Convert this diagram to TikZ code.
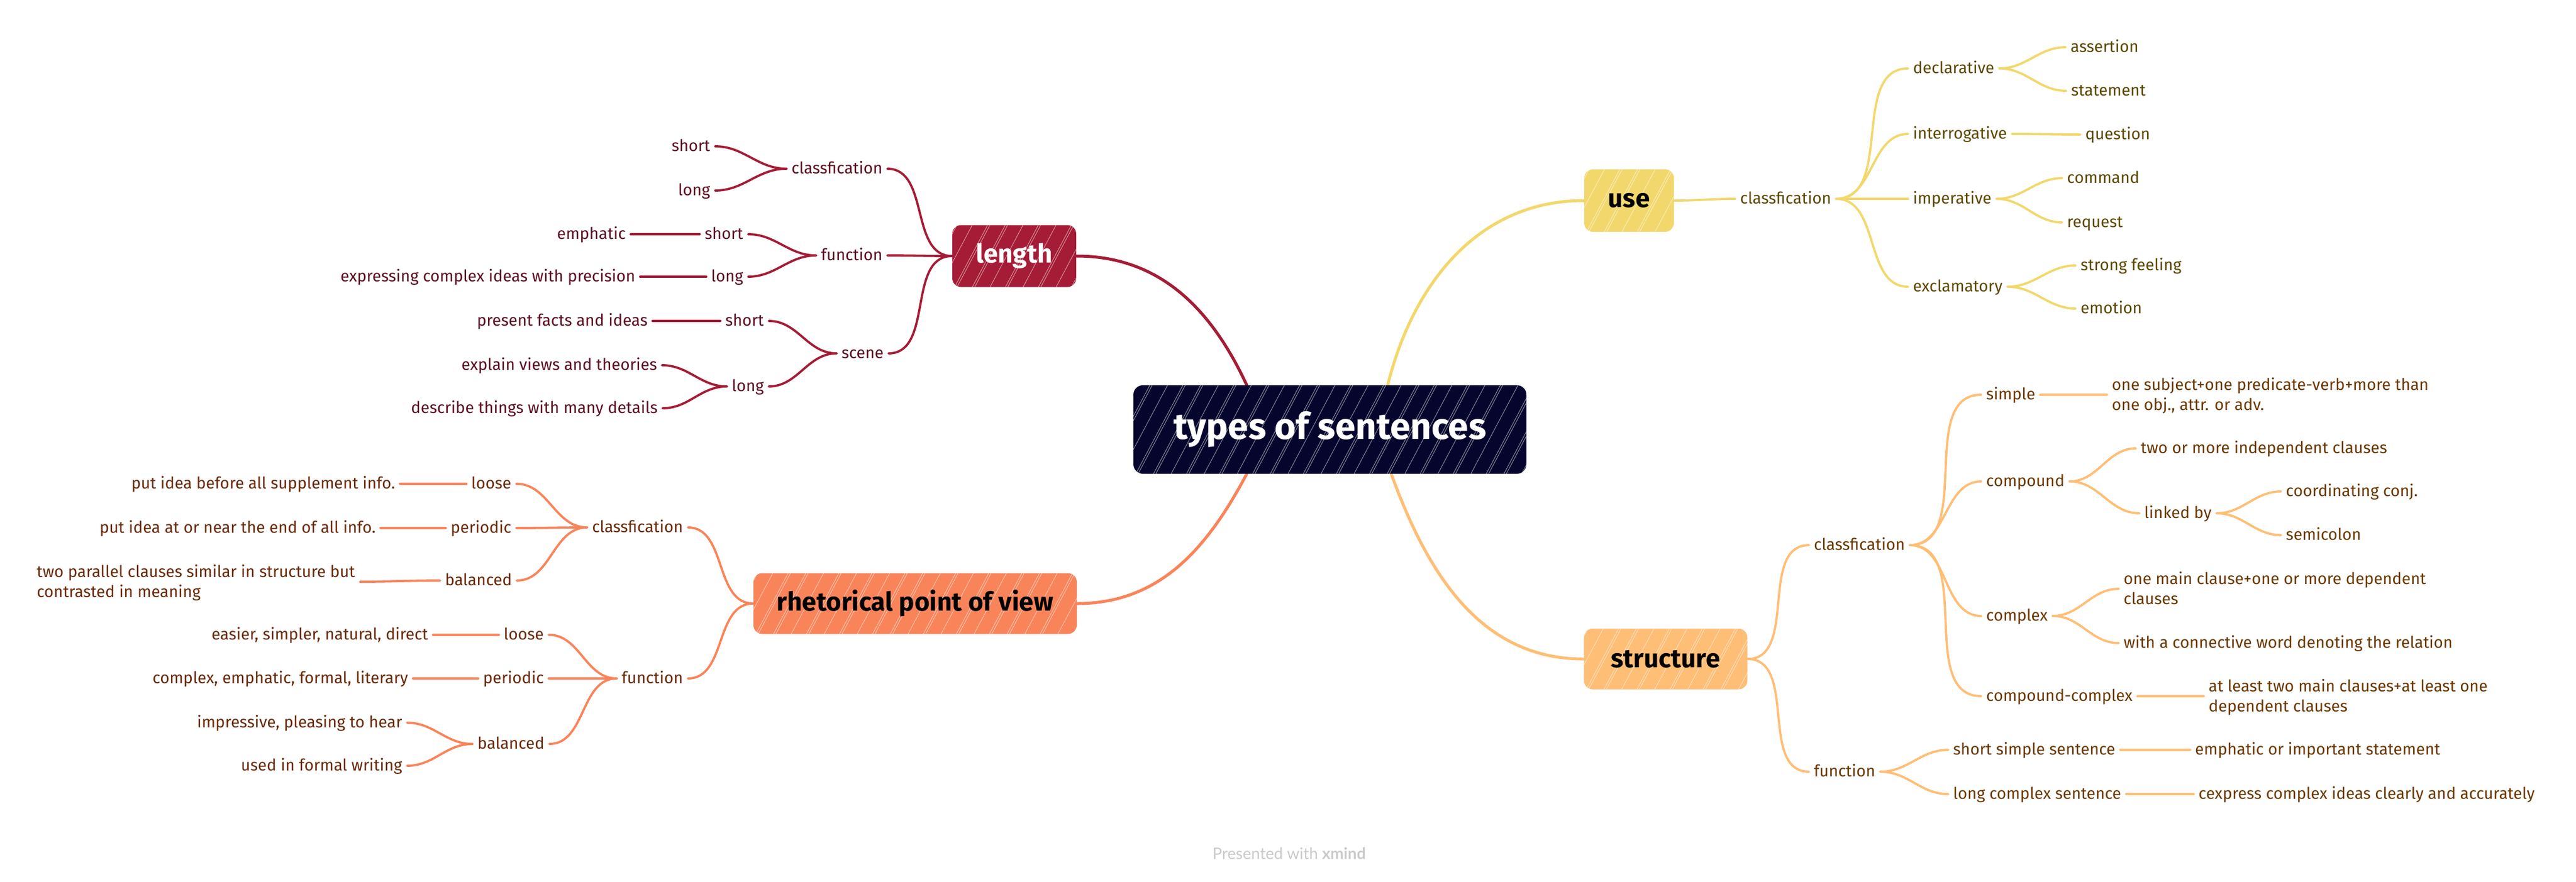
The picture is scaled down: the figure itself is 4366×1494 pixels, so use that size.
\documentclass[tikz,border=0pt]{standalone}
\usepackage{fontspec}
\setmainfont{Fira Sans}
\newfontfamily\footfamily{Lato}
\usetikzlibrary{backgrounds}
\definecolor{lenc}{HTML}{A51C36}
\definecolor{lent}{HTML}{5C1022}
\definecolor{usec}{HTML}{F2D86C}
\definecolor{uset}{HTML}{5C4800}
\definecolor{rhc}{HTML}{F9845A}
\definecolor{rht}{HTML}{6A2A0A}
\definecolor{stc}{HTML}{FFBE76}
\definecolor{stt}{HTML}{6A3800}
\definecolor{cenc}{HTML}{05052E}
\definecolor{footc}{HTML}{CACACA}
\newcommand\leaffont{\fontsize{13.7pt}{17pt}\selectfont}
\newcommand\topicfont{\fontsize{22pt}{26pt}\selectfont\bfseries}
\newcommand\centralfont{\fontsize{31pt}{36pt}\selectfont\bfseries}
\tikzset{
  hatch/.style={path picture={
    \foreach \i in {0,...,55}{
      \pgfmathsetmacro\off{\i*9 + mod(\i*37,11)}
      \draw[white, line width=0.45pt, opacity=0.55]
        ([xshift=\off pt - 80pt]path picture bounding box.south west) -- ++(62:200pt);
    }}},
  topic/.style={rounded corners=7.5pt, inner sep=0pt, font=\topicfont, hatch},
  central/.style={rounded corners=8pt, inner sep=0pt, fill=cenc, text=white,
    font=\centralfont, minimum width=333pt, minimum height=75pt, hatch},
  leaf/.style={inner xsep=4pt, inner ysep=0pt, text height=0.9em, text depth=0.1em, font=\leaffont},
  lenleaf/.style={leaf, text=lent},
  useleaf/.style={leaf, text=uset},
  rhleaf/.style={leaf, text=rht},
  stleaf/.style={leaf, text=stt},
  mainline/.style={line width=2.5pt, line cap=round},
  subline/.style={line width=1.9pt, line cap=round},
}
\begin{document}
\begin{tikzpicture}[x=0.5pt,y=-0.5pt]
\useasboundingbox (0,0) rectangle (4366,1494);

% central and main topics
\node[central] (c) at (2254,728) {types of sentences};
\node[topic, fill=lenc, text=white, minimum width=105pt, minimum height=52.5pt] (len) at (1719,434) {length};
\node[topic, fill=usec, text=black, minimum width=76pt, minimum height=53pt] (use) at (2761,340) {use};
\node[topic, fill=rhc, text=black, minimum width=274pt, minimum height=51.5pt] (rh) at (1551,1023) {rhetorical point of view};
\node[topic, fill=stc, text=black, minimum width=138.5pt, minimum height=51.5pt] (st) at (2823,1117) {structure};

% ---- use branch
\node[useleaf, anchor=west] (ucls) at (2941,337) {classfication};
\node[useleaf, anchor=west] (udecl) at (3234,116) {declarative};
\node[useleaf, anchor=west] (uint) at (3234,227) {interrogative};
\node[useleaf, anchor=west] (uimp) at (3234,337) {imperative};
\node[useleaf, anchor=west] (uexc) at (3234,486) {exclamatory};
\node[useleaf, anchor=west] (uass) at (3501,80) {assertion};
\node[useleaf, anchor=west] (usta) at (3502,154) {statement};
\node[useleaf, anchor=west] (uque) at (3526,228) {question};
\node[useleaf, anchor=west] (ucom) at (3495,302) {command};
\node[useleaf, anchor=west] (ureq) at (3495,377) {request};
\node[useleaf, anchor=west] (ustr) at (3518,450) {strong feeling};
\node[useleaf, anchor=west] (uemo) at (3518,523) {emotion};

% ---- structure branch
\node[stleaf, anchor=west] (scls) at (3066,924) {classfication};
\node[stleaf, anchor=west] (sfun) at (3066,1308) {function};
\node[stleaf, anchor=west] (ssim) at (3358,669) {simple};
\node[stleaf, anchor=west] (scpd) at (3358,816) {compound};
\node[stleaf, anchor=west] (scpx) at (3358,1044) {complex};
\node[stleaf, anchor=west] (scc) at (3358,1180) {compound-complex};
\node[stleaf, anchor=west, align=left] (ssimL) at (3571,687) {one subject+one predicate-verb+more than\\one obj., attr. or adv.};
\node[stleaf, anchor=west] (stwo) at (3620,760) {two or more independent clauses};
\node[stleaf, anchor=west] (slink) at (3626,870) {linked by};
\node[stleaf, anchor=west] (scoord) at (3866,833) {coordinating conj.};
\node[stleaf, anchor=west] (ssemi) at (3866,907) {semicolon};
\node[stleaf, anchor=west, align=left] (smain) at (3591,1016) {one main clause+one or more dependent\\clauses};
\node[stleaf, anchor=west] (sconn) at (3591,1090) {with a connective word denoting the relation};
\node[stleaf, anchor=west, align=left] (sccL) at (3735,1198) {at least two main clauses+at least one\\dependent clauses};
\node[stleaf, anchor=west] (sss) at (3302,1271) {short simple sentence};
\node[stleaf, anchor=west] (slcs) at (3302,1346) {long complex sentence};
\node[stleaf, anchor=west] (semph) at (3712,1271) {emphatic or important statement};
\node[stleaf, anchor=west] (scex) at (3718,1346) {cexpress complex ideas clearly and accurately};

% ---- length branch
\node[lenleaf, anchor=east] (lcls) at (1504,286) {classfication};
\node[lenleaf, anchor=east] (lfun) at (1504,433) {function};
\node[lenleaf, anchor=east] (lsce) at (1506,599) {scene};
\node[lenleaf, anchor=east] (lcs) at (1212,248) {short};
\node[lenleaf, anchor=east] (lcl) at (1212,323) {long};
\node[lenleaf, anchor=east] (lfs) at (1268,397) {short};
\node[lenleaf, anchor=east] (lfl) at (1268,469) {long};
\node[lenleaf, anchor=east] (lemp) at (1069,397) {emphatic};
\node[lenleaf, anchor=east] (lexp) at (1085,469) {expressing complex ideas with precision};
\node[lenleaf, anchor=east] (lss) at (1303,544) {short};
\node[lenleaf, anchor=east] (lsl) at (1303,655) {long};
\node[lenleaf, anchor=east] (lpre) at (1106,544) {present facts and ideas};
\node[lenleaf, anchor=east] (lexv) at (1122,619) {explain views and theories};
\node[lenleaf, anchor=east] (ldes) at (1123,692) {describe things with many details};

% ---- rhetorical branch
\node[rhleaf, anchor=east] (rcls) at (1166,894) {classfication};
\node[rhleaf, anchor=east] (rfun) at (1166,1150) {function};
\node[rhleaf, anchor=east] (rcl) at (875,820) {loose};
\node[rhleaf, anchor=east] (rcp) at (875,895) {periodic};
\node[rhleaf, anchor=east] (rcb) at (876,984) {balanced};
\node[rhleaf, anchor=east] (rput1) at (678,820) {put idea before all supplement info.};
\node[rhleaf, anchor=east] (rput2) at (645,895) {put idea at or near the end of all info.};
\node[rhleaf, anchor=west, align=left] (rtwo) at (54,1004) {two parallel clauses similar in structure but\\contrasted in meaning};
\node[rhleaf, anchor=east] (rfl) at (930,1076) {loose};
\node[rhleaf, anchor=east] (rfp) at (930,1150) {periodic};
\node[rhleaf, anchor=east] (rfb) at (931,1261) {balanced};
\node[rhleaf, anchor=east] (reas) at (734,1076) {easier, simpler, natural, direct};
\node[rhleaf, anchor=east] (rcom) at (700,1150) {complex, emphatic, formal, literary};
\node[rhleaf, anchor=east] (rimp) at (690,1225) {impressive, pleasing to hear};
\node[rhleaf, anchor=east] (rused) at (690,1298) {used in formal writing};

% footer
\node[font=\footfamily\fontsize{13.5pt}{16pt}\selectfont, text=footc, inner sep=0pt] (ft) at (2185,1447) {Presented with \textbf{xmind}};

\begin{scope}[on background layer]
% main connectors
\draw[mainline, lenc] (len.east) to[out=0, in=115] ([xshift=-70.5pt]c.north);
\draw[mainline, usec] ([xshift=49pt]c.north) to[out=76, in=180] (use.west);
\draw[mainline, rhc] ([xshift=-70.5pt]c.south) to[out=242, in=0] (rh.east);
\draw[mainline, stc] ([xshift=52pt]c.south) to[out=-70, in=180] (st.west);

% use
\begin{scope}[subline, usec]
\draw (use.east) to[out=0,in=180] (ucls.west);
\foreach \n in {udecl,uint,uimp,uexc} \draw (ucls.east) to[out=0,in=180] (\n.west);
\draw (udecl.east) to[out=0,in=180] (uass.west);
\draw (udecl.east) to[out=0,in=180] (usta.west);
\draw (uint.east) to[out=0,in=180] (uque.west);
\draw (uimp.east) to[out=0,in=180] (ucom.west);
\draw (uimp.east) to[out=0,in=180] (ureq.west);
\draw (uexc.east) to[out=0,in=180] (ustr.west);
\draw (uexc.east) to[out=0,in=180] (uemo.west);
\end{scope}

% structure
\begin{scope}[subline, stc]
\draw (st.east) to[out=0,in=180] (scls.west);
\draw (st.east) to[out=0,in=180] (sfun.west);
\foreach \n in {ssim,scpd,scpx,scc} \draw (scls.east) to[out=0,in=180] (\n.west);
\draw (ssim.east) to[out=0,in=180] ([yshift=9pt]ssimL.west);
\draw (scpd.east) to[out=0,in=180] (stwo.west);
\draw (scpd.east) to[out=0,in=180] (slink.west);
\draw (slink.east) to[out=0,in=180] (scoord.west);
\draw (slink.east) to[out=0,in=180] (ssemi.west);
\draw (scpx.east) to[out=0,in=180] ([yshift=9pt]smain.west);
\draw (scpx.east) to[out=0,in=180] (sconn.west);
\draw (scc.east) to[out=0,in=180] ([yshift=9pt]sccL.west);
\draw (sfun.east) to[out=0,in=180] (sss.west);
\draw (sfun.east) to[out=0,in=180] (slcs.west);
\draw (sss.east) to[out=0,in=180] (semph.west);
\draw (slcs.east) to[out=0,in=180] (scex.west);
\end{scope}

% length
\begin{scope}[subline, lenc]
\foreach \n in {lcls,lfun,lsce} \draw (len.west) to[out=180,in=0] (\n.east);
\draw (lcls.west) to[out=180,in=0] (lcs.east);
\draw (lcls.west) to[out=180,in=0] (lcl.east);
\draw (lfun.west) to[out=180,in=0] (lfs.east);
\draw (lfun.west) to[out=180,in=0] (lfl.east);
\draw (lfs.west) to[out=180,in=0] (lemp.east);
\draw (lfl.west) to[out=180,in=0] (lexp.east);
\draw (lsce.west) to[out=180,in=0] (lss.east);
\draw (lsce.west) to[out=180,in=0] (lsl.east);
\draw (lss.west) to[out=180,in=0] (lpre.east);
\draw (lsl.west) to[out=180,in=0] (lexv.east);
\draw (lsl.west) to[out=180,in=0] (ldes.east);
\end{scope}

% rhetorical
\begin{scope}[subline, rhc]
\draw (rh.west) to[out=180,in=0] (rcls.east);
\draw (rh.west) to[out=180,in=0] (rfun.east);
\foreach \n in {rcl,rcp,rcb} \draw (rcls.west) to[out=180,in=0] (\n.east);
\draw (rcl.west) to[out=180,in=0] (rput1.east);
\draw (rcp.west) to[out=180,in=0] (rput2.east);
\draw (rcb.west) to[out=180,in=0] ([yshift=9pt]rtwo.east);
\foreach \n in {rfl,rfp,rfb} \draw (rfun.west) to[out=180,in=0] (\n.east);
\draw (rfl.west) to[out=180,in=0] (reas.east);
\draw (rfp.west) to[out=180,in=0] (rcom.east);
\draw (rfb.west) to[out=180,in=0] (rimp.east);
\draw (rfb.west) to[out=180,in=0] (rused.east);
\end{scope}
\end{scope}
\end{tikzpicture}
\end{document}
